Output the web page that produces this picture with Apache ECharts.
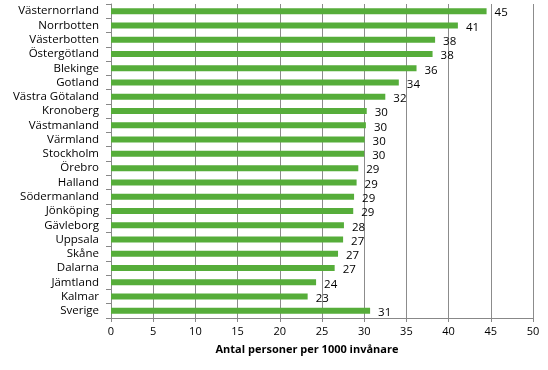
<!DOCTYPE html>
<html><head><meta charset="utf-8">
<script src="https://cdn.jsdelivr.net/npm/echarts@6/dist/echarts.min.js"></script>
<style>html,body{margin:0;padding:0;background:#fff}#c{width:548px;height:370px}</style>
</head><body><div id="c"></div>
<script>
const categories = ["Västernorrland","Norrbotten","Västerbotten","Östergötland","Blekinge","Gotland","Västra Götaland","Kronoberg","Västmanland","Värmland","Stockholm","Örebro","Halland","Södermanland","Jönköping","Gävleborg","Uppsala","Skåne","Dalarna","Jämtland","Kalmar","Sverige"];
const values = [44.5,41.1,38.4,38.1,36.2,34.1,32.5,30.3,30.2,30.05,30.0,29.3,29.1,28.8,28.7,27.6,27.5,26.9,26.5,24.3,23.3,30.7];
const labels = [45,41,38,38,36,34,32,30,30,30,30,29,29,29,29,28,27,27,27,24,23,31];
const axisTitle = "Antal personer per 1000 invånare";

const chart = echarts.init(document.getElementById('c'), null, {renderer:'canvas'});
const font = 'Open Sans';
chart.setOption({
  animation:false,
  grid:{left:111, right:15, top:4, bottom:52, containLabel:false},
  xAxis:{type:'value', min:0, max:50, interval:5,
    name:axisTitle, nameLocation:'middle', nameGap:26,
    nameTextStyle:{fontFamily:font, fontSize:11, fontWeight:'bold', color:'#000', padding:[0,30,0,0]},
    axisLine:{show:true, lineStyle:{color:'#888'}},
    axisTick:{show:true, length:4, lineStyle:{color:'#888'}},
    axisLabel:{fontFamily:font, fontSize:11, color:'#000', margin:8},
    splitLine:{show:true, lineStyle:{color:'#8c8c8c', width:1}}
  },
  yAxis:{type:'category', data:categories, inverse:true,
    axisLine:{show:true, lineStyle:{color:'#888'}},
    axisTick:{show:true, length:5, interval:0, lineStyle:{color:'#888'}},
    axisLabel:{fontFamily:font, fontSize:11.5, color:'#000', margin:12, interval:0}
  },
  series:[{type:'bar', data:values, barWidth:6, itemStyle:{color:'#56ad3a'},
    label:{show:true, position:'right', distance:8, offset:[0,2], fontFamily:font, fontSize:11.5, color:'#000',
      formatter:p=>labels[p.dataIndex]}
  }]
});
</script></body></html>
